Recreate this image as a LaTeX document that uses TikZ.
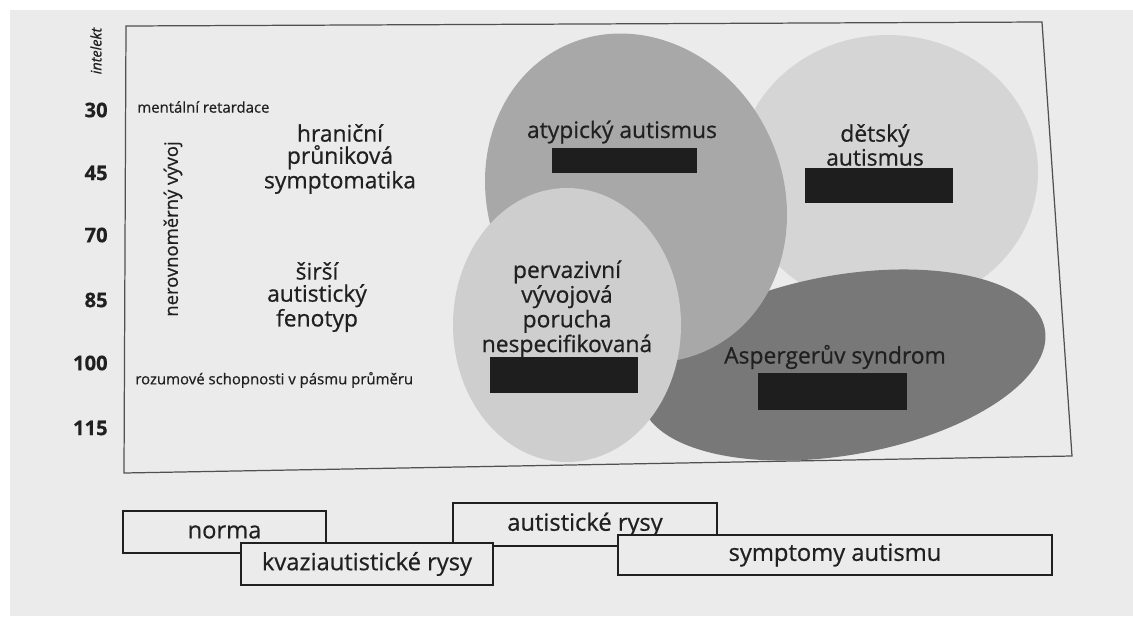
\documentclass[tikz,border=0pt]{standalone}
\usepackage{fontspec}
\setmainfont{Open Sans}[FakeBold=0.6]
\usepackage{tikz}
\usetikzlibrary{positioning}
\definecolor{paper}{RGB}{235,235,235}
\definecolor{inkgray}{RGB}{32,32,32}
\definecolor{framegray}{RGB}{80,80,80}
\definecolor{childgray}{RGB}{213,213,213}
\definecolor{atypgray}{RGB}{168,168,168}
\definecolor{pddgray}{RGB}{206,206,206}
\definecolor{aspgray}{RGB}{120,120,120}
\definecolor{barblack}{RGB}{30,30,30}

\begin{document}
\begin{tikzpicture}[
    x=0.02cm, y=-0.02cm,
    areatext/.style={text=inkgray, align=center, inner sep=0pt, font=\fontsize{13}{12.6}\selectfont},
    note/.style={text=inkgray, anchor=west, inner sep=0pt, font=\fontsize{8.5}{9}\selectfont},
    iqval/.style={text=inkgray, anchor=east, inner sep=0pt, font=\fontsize{11.5}{11.5}\selectfont\bfseries},
    bar/.style={fill=barblack},
    band/.style={rectangle, draw=inkgray, fill=paper, line width=0.8pt, inner sep=0pt, text=inkgray, font=\fontsize{13.5}{14}\selectfont}
]

\useasboundingbox (0,0) rectangle (1133,616);
\fill[white] (0,0) rectangle (1133,616);
\fill[paper] (10,10) rectangle (1133,616);

\draw[framegray, line width=0.7pt] (126,26) -- (1042,22) -- (1072,456) -- (124,473) -- cycle;

\fill[childgray] (888,172) ellipse [x radius=150, y radius=137];
\fill[aspgray, rotate around={10:(843,365)}] (843,365) ellipse [x radius=205, y radius=90];
\fill[atypgray, rotate around={25:(636,198)}] (636,198) ellipse [x radius=147, y radius=168];
\fill[pddgray] (567,325) ellipse [x radius=114, y radius=137];

\node[rotate=90, text=inkgray, inner sep=0pt, font=\fontsize{8.2}{9}\selectfont\itshape] (intelekt) at (96,51) {intelekt};
\foreach \val/\ypos in {30/110, 45/173, 70/235, 85/300, 100/363, 115/428}
    \node[iqval] (iq\val) at (108,\ypos) {\val};

\node[note] (retard) at (137,107) {mentální retardace};
\node[note] (prumer) at (135,380) {rozumové schopnosti v pásmu průměru};
\node[rotate=90, text=inkgray, inner sep=0pt, font=\fontsize{10.5}{11}\selectfont] (nerovno) at (173,229) {nerovnoměrný vývoj};

\node[areatext] (hranicni) at (340,159) {hraniční\\průniková\\symptomatika};
\node[areatext] (fenotyp) at (317,297) {širší\\autistický\\fenotyp};
\node[areatext] (atypicky) at (622,132) {atypický autismus};
\node[areatext] (detsky) at (875,145) {dětský\\autismus};
\node[areatext] (pervaz) at (567,309) {pervazivní\\vývojová\\porucha\\nespecifikovaná};
\node[areatext] (asperger) at (835,357) {Aspergerův syndrom};

\fill[bar] (552,148) rectangle (697,173);
\fill[bar] (805,168) rectangle (953,203);
\fill[bar] (490,357) rectangle (638,393);
\fill[bar] (758,373) rectangle (907,410);

\node[band, minimum width=4.06cm, minimum height=0.84cm] (norma) at (224.5,532) {norma};
\node[band, minimum width=5.28cm, minimum height=0.86cm] (rysy) at (585,524.5) {autistické rysy};
\node[band, minimum width=5.04cm, minimum height=0.84cm] (kvazi) at (367,564) {kvaziautistické rysy};
\node[band, minimum width=8.68cm, minimum height=0.8cm] (symptomy) at (835,555) {symptomy autismu};

\end{tikzpicture}
\end{document}
